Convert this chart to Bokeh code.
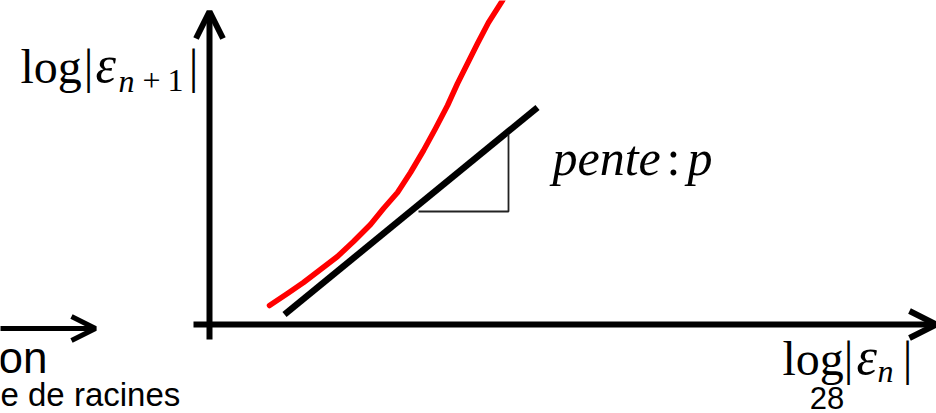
from bokeh.plotting import figure
from bokeh.models import Range1d, Arrow, OpenHead, Label
from bokeh.embed import file_html
from bokeh.resources import INLINE

# Sequence of errors in log-log space: x = log|e_n|, y = log|e_{n+1}|
err_n = [6.0, 7.8, 9.4, 11.1, 12.8, 14.4, 16.1, 17.4, 18.8, 20.1, 21.4, 22.6,
         23.8, 24.8, 25.8, 26.8, 27.9, 29.3, 29.5]
err_n1 = [1.9, 3.1, 4.2, 5.5, 6.8, 8.3, 10.0, 11.6, 13.2, 15.2, 17.4, 19.6,
          21.9, 24.1, 26.1, 28.1, 30.2, 32.4, 32.8]

# Asymptotic straight line of slope p
slope_x = [7.5, 32.8]
slope_y = [1.0, 21.7]

# Slope triangle under the asymptote
tri_x = [20.9, 29.9, 29.9]
tri_y = [11.3, 11.3, 19.0]

W, H = 936, 413
p = figure(width=W, height=H, output_backend="svg", toolbar_location=None,
           x_range=Range1d(-20.9, 72.7), y_range=Range1d(-8.9, 32.4),
           min_border=0, min_border_left=0, min_border_right=0,
           min_border_top=0, min_border_bottom=0)
p.axis.visible = False
p.grid.visible = False
p.outline_line_color = None
p.background_fill_color = "white"
p.border_fill_color = "white"

# Axes drawn as arrows
p.add_layout(Arrow(x_start=-1.6, y_start=0, x_end=72.7, y_end=0, line_width=6,
                   line_color="black",
                   end=OpenHead(size=27, line_width=6, line_color="black")))
p.add_layout(Arrow(x_start=0, y_start=-1.5, x_end=0, y_end=31.3, line_width=6,
                   line_color="black",
                   end=OpenHead(size=27, line_width=6, line_color="black")))
# Arrow from the neighbouring panel
p.add_layout(Arrow(x_start=-21.5, y_start=-0.4, x_end=-11.4, y_end=-0.4,
                   line_width=5, line_color="black",
                   end=OpenHead(size=24, line_width=5, line_color="black")))

p.line(err_n, err_n1, line_color="#ff0000", line_width=5.5,
       line_join="round", line_cap="round")
p.line(slope_x, slope_y, line_color="black", line_width=6.5)
p.line(tri_x, tri_y, line_color="#222222", line_width=1.8)

SERIF = "Liberation Serif"
SANS = "Liberation Sans"
PX = 0.1  # data units per screen pixel


def lab(x, y, text, font=SERIF, size=48, style="normal", align="left"):
    # raise by a fraction of the font size so that y is the text baseline
    p.add_layout(Label(x=x, y=y + 0.4 * size * PX, text=text, text_font=font,
                       text_font_size=f"{size}px", text_font_style=style,
                       text_align=align, text_baseline="alphabetic",
                       text_color="black"))


# y-axis label: log|e_{n+1}|
lab(-18.9, 23.9, "log")
lab(-12.1, 23.9, "|", align="center")
lab(-11.4, 23.9, "ε", size=52, style="italic")
lab(-9.1, 23.1, "n", size=32, style="italic")
lab(-5.8, 23.1, "+", size=32, align="center")
lab(-3.4, 23.1, "1", size=32, align="center")
lab(-1.6, 23.9, "|", align="center")

# x-axis label: log|e_n|
lab(57.3, -5.3, "log")
lab(63.9, -5.3, "|", align="center")
lab(64.7, -5.3, "ε", size=52, style="italic")
lab(66.8, -5.9, "n", size=32, style="italic")
lab(69.8, -5.3, "|", align="center")

# slope annotation
lab(34.3, 14.7, "pente", size=50, style="italic")
lab(46.4, 14.7, ":", size=50, align="center")
lab(47.8, 14.7, "p", size=50, style="italic")

# page number and neighbouring panel text
lab(61.75, -8.6, "28", font=SANS, size=31, align="center")
lab(-16.2, -5.1, "on", font=SANS, size=44, align="right")
lab(-20.9, -8.3, "e de racines", font=SANS, size=33)

open("out.html", "w").write(file_html(p, INLINE))
